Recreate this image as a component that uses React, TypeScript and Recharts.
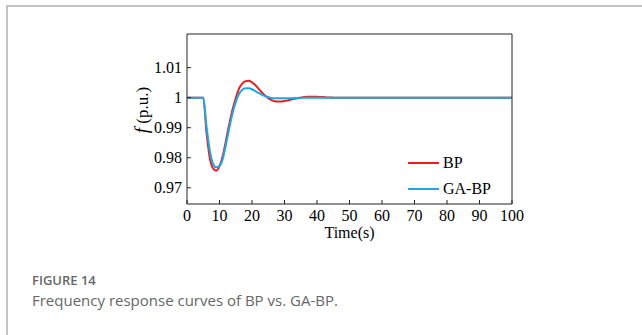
import { LineChart, Line, XAxis, YAxis, Legend } from 'recharts';

// time axis (s) and the two frequency responses (p.u.)
const time = [
  0, 1, 2, 3, 4, 5, 6, 7, 8, 9, 10, 11, 12, 13, 14, 15, 16, 17, 18, 19, 20,
  21, 22, 23, 24, 25, 26, 27, 28, 29, 30, 31, 32, 33, 34, 35, 36, 37, 38, 39, 40,
  41, 42, 43, 44, 45, 50, 60, 70, 80, 90, 100
];
const bp = [
  1, 1, 1, 1, 1, 1, 0.9885, 0.98, 0.9765, 0.9757, 0.9772, 0.9806, 0.9858, 0.9912, 0.996, 0.9998,
  1.003, 1.0047, 1.0055, 1.0056, 1.0051, 1.0042, 1.003, 1.0018, 1.0007, 0.9998, 0.9992,
  0.9988, 0.9987, 0.9987, 0.9989, 0.9991, 0.9994, 0.9996, 0.9998, 1.0, 1.0002, 1.0003,
  1.0003, 1.0003, 1.0003, 1.0002, 1.0002, 1.0001, 1.0001, 1.0, 1, 1, 1, 1, 1, 1
];
const gabp = [
  1, 1, 1, 1, 1, 1, 0.9905, 0.9825, 0.978, 0.9768, 0.9772, 0.9796, 0.9845, 0.9898, 0.9947, 0.9985,
  1.0012, 1.0026, 1.0031, 1.0031, 1.0028, 1.0022, 1.0016, 1.001, 1.0005, 1.0002, 0.9999,
  0.9998, 0.9998, 0.9998, 0.9998, 0.9998, 0.9998, 0.9999, 0.9999, 1.0, 1, 1, 1, 1, 1,
  1, 1, 1, 1, 1, 1, 1, 1, 1, 1, 1
];
const xTicks = [0, 10, 20, 30, 40, 50, 60, 70, 80, 90, 100];
const yTicks = [0.97, 0.98, 0.99, 1, 1.01];
const yDomain = [0.9646, 1.0212];

const data = time.map((t, i) => ({ t, BP: bp[i], 'GA-BP': gabp[i] }));

const serif = '"Liberation Serif", "Times New Roman", serif';
const tickStyle = { fill: '#000', fontSize: 16, fontFamily: serif };

const renderLegend = (props: any) => (
  <div style={{ fontFamily: serif, fontSize: 16, color: '#000' }}>
    {props.payload.map((p: any) => (
      <div key={p.value} style={{ display: 'flex', alignItems: 'center', height: 26 }}>
        <div style={{ width: 31, height: 2, background: p.color, marginRight: 4 }} />
        <span>{p.value}</span>
      </div>
    ))}
  </div>
);

const App = () => {
  return (
    <div style={{ position: 'absolute', left: 0, top: 0, width: 642, height: 335, background: '#fff' }}>
      <div
        style={{
          position: 'absolute', left: 6, top: 5, right: 0, bottom: 0,
          borderLeft: '2px solid #c4c4c4', borderTop: '2px solid #c4c4c4'
        }}
      />
      <LineChart
        width={642}
        height={250}
        data={data}
        margin={{ top: 33, right: 129, left: 127, bottom: 16 }}
        style={{ position: 'absolute', left: 0, top: 0 }}
      >
        <XAxis
          dataKey="t"
          type="number"
          domain={[0, 100]}
          ticks={xTicks}
          interval={0}
          tick={tickStyle}
          tickSize={-4}
          tickMargin={10}
          stroke="#222"
          height={30}
          label={{
            content: (p: any) => (
              <text
                x={p.viewBox.x + p.viewBox.width / 2}
                y={p.viewBox.y + 34}
                textAnchor="middle"
                fontFamily={serif}
                fontSize={16}
                fill="#000"
              >
                Time(s)
              </text>
            )
          }}
        />
        <XAxis xAxisId="top" dataKey="t" type="number" orientation="top" domain={[0, 100]}
          ticks={xTicks} interval={0} tick={false} tickSize={-4} height={1} stroke="#222" />
        <YAxis
          type="number"
          domain={yDomain}
          ticks={yTicks}
          interval={0}
          tick={tickStyle}
          tickSize={-4}
          tickMargin={9}
          width={60}
          stroke="#222"
          allowDataOverflow
          label={{
            content: (p: any) => {
              const cx = p.viewBox.x + 21;
              const cy = 110;
              return (
                <text x={cx} y={cy} textAnchor="middle" transform={`rotate(-90, ${cx}, ${cy})`}
                  fontFamily={serif} fontSize={17} fill="#000">
                  <tspan fontStyle="italic" fontSize={19}>f</tspan> (p.u.)
                </text>
              );
            }
          }}
        />
        <YAxis yAxisId="right" type="number" orientation="right" domain={yDomain}
          ticks={yTicks} interval={0} tick={false} tickSize={-4} width={1} stroke="#222" allowDataOverflow />
        <Legend
          layout="vertical"
          align="center"
          verticalAlign="middle"
          content={renderLegend}
          wrapperStyle={{ left: 408, top: 150, width: 100 }}
        />
        <Line type="monotone" dataKey="BP" stroke="#ee1c1c" strokeWidth={2} dot={false} isAnimationActive={false} />
        <Line type="monotone" dataKey="GA-BP" stroke="#1ba9e4" strokeWidth={2} dot={false} isAnimationActive={false} />
      </LineChart>
      <div style={{ position: 'absolute', left: 32, top: 272, fontFamily: '"Open Sans", sans-serif', color: '#666' }}>
        <div style={{ fontSize: 13, fontWeight: 600, lineHeight: '17px' }}>FIGURE 14</div>
        <div style={{ fontSize: 15, lineHeight: '22px', color: '#666' }}>Frequency response curves of BP vs. GA-BP.</div>
      </div>
    </div>
  );
};

export default App;
